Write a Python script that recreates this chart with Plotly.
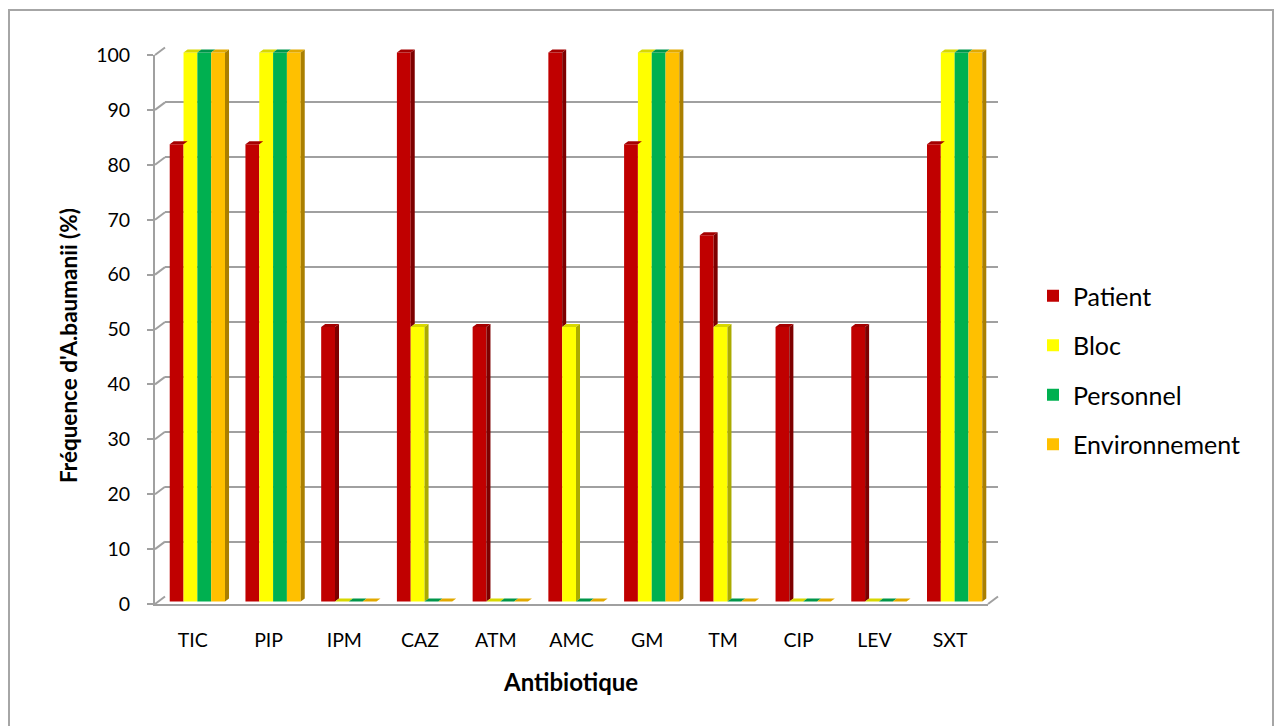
import plotly.graph_objects as go

# ---- data -------------------------------------------------------------
categories = ["TIC", "PIP", "IPM", "CAZ", "ATM", "AMC", "GM", "TM", "CIP", "LEV", "SXT"]
patient = [83.3, 83.3, 50, 100, 50, 100, 83.3, 66.7, 50, 50, 83.3]
bloc = [100, 100, 0, 50, 0, 50, 100, 50, 0, 0, 100]
personnel = [100, 100, 0, 0, 0, 0, 100, 0, 0, 0, 100]
environnement = [100, 100, 0, 0, 0, 0, 100, 0, 0, 0, 100]
series_names = ["Patient", "Bloc", "Personnel", "Environnement"]
y_ticks = list(range(0, 101, 10))

# ---- styling ----------------------------------------------------------
W, H = 1274, 726
FONT = "Lato"
front_colors = ["#C00000", "#FFFF00", "#00B050", "#FFC000"]
top_colors = ["#A50000", "#D8D800", "#00964A", "#E2A900"]
side_colors = ["#7E0000", "#ABAB00", "#007838", "#AA7F00"]
grid_color = "#A0A0A0"

SCALE = 5.49            # pixels per percentage point
BAR_GAP = 0.27
DEPTH_X = 0.053         # bar depth, category units
DEPTH_Y = 0.55          # bar depth, value units


def fx(p):
    return p / W


def fy(p):
    return 1 - p / H


# front frame (tick labels), bar plane and back wall are three stacked planes
FRONT_L, FRONT_R, FRONT_Y0 = 155, 988, 604
BAR_SHIFT_X, BAR_SHIFT_Y = 4.5, -2.5
WALL_SHIFT_X, WALL_SHIFT_Y = 10, -7.5

series = [patient, bloc, personnel, environnement]
n = len(categories)
xs = list(range(n))

fig = go.Figure()

# invisible traces so the back-wall and front-frame subplots are created
fig.add_trace(go.Scatter(x=[None], y=[None], xaxis="x", yaxis="y",
                         showlegend=False, hoverinfo="skip"))
fig.add_trace(go.Scatter(x=[None], y=[None], xaxis="x3", yaxis="y3",
                         showlegend=False, hoverinfo="skip"))

for name, vals, col in zip(series_names, series, front_colors):
    fig.add_trace(go.Bar(
        x=xs, y=vals, name=name, marker=dict(color=col, line=dict(width=0)),
        xaxis="x2", yaxis="y2", legendgroup=name,
    ))

# ---- 3D faces (top and right side of each bar) -----------------------
bw = (1 - BAR_GAP) / len(series)
shapes = []
for i in xs:
    vals = [s[i] for s in series]
    for j, v in enumerate(vals):
        left = i - (1 - BAR_GAP) / 2 + j * bw
        right = left + bw
        # top face
        shapes.append(dict(
            type="path", xref="x2", yref="y2", layer="above",
            path=(f"M{left},{v} L{left + DEPTH_X},{v + DEPTH_Y} "
                  f"L{right + DEPTH_X},{v + DEPTH_Y} L{right},{v} Z"),
            fillcolor=top_colors[j], line=dict(width=0),
        ))
        # side face, only where the next bar does not hide it
        nxt = vals[j + 1] if j + 1 < len(vals) else 0
        if v > nxt:
            shapes.append(dict(
                type="path", xref="x2", yref="y2", layer="above",
                path=(f"M{right},{nxt} L{right + DEPTH_X},{nxt + DEPTH_Y} "
                      f"L{right + DEPTH_X},{v + DEPTH_Y} L{right},{v} Z"),
                fillcolor=side_colors[j], line=dict(width=0),
            ))

# side-wall gridlines joining the front axis to the back wall
for t in y_ticks:
    yf = FRONT_Y0 - SCALE * t
    shapes.append(dict(
        type="line", xref="paper", yref="paper", layer="below",
        x0=fx(FRONT_L), y0=fy(yf),
        x1=fx(FRONT_L + WALL_SHIFT_X), y1=fy(yf + WALL_SHIFT_Y),
        line=dict(color=grid_color, width=2),
    ))
# right edge of the floor
shapes.append(dict(
    type="line", xref="paper", yref="paper", layer="below",
    x0=fx(FRONT_R), y0=fy(FRONT_Y0),
    x1=fx(FRONT_R + WALL_SHIFT_X), y1=fy(FRONT_Y0 + WALL_SHIFT_Y),
    line=dict(color=grid_color, width=2),
))
# chart frame
shapes.append(dict(
    type="rect", xref="paper", yref="paper", layer="below",
    x0=fx(9), y0=fy(760), x1=fx(1273), y1=fy(10),
    line=dict(color="#A6A6A6", width=2), fillcolor="rgba(0,0,0,0)",
))

top100 = FRONT_Y0 - SCALE * 100
bar_y0 = FRONT_Y0 + BAR_SHIFT_Y
y2_lo, y2_hi = -2, 104

fig.update_layout(
    width=W, height=H,
    margin=dict(l=0, r=0, t=0, b=0, pad=0, autoexpand=False),
    paper_bgcolor="white", plot_bgcolor="rgba(0,0,0,0)",
    font=dict(family=FONT, color="black"),
    barmode="group", bargap=BAR_GAP, bargroupgap=0,
    showlegend=True,
    legend=dict(
        x=fx(1033), y=fy(370), xanchor="left", yanchor="middle",
        font=dict(family=FONT, size=25, color="black"),
        tracegroupgap=14, itemwidth=30, bgcolor="rgba(0,0,0,0)",
    ),
    # back wall
    xaxis=dict(domain=[fx(FRONT_L + WALL_SHIFT_X), fx(FRONT_R + WALL_SHIFT_X)],
               range=[-0.5, n - 0.5], visible=False, anchor="y"),
    yaxis=dict(domain=[fy(FRONT_Y0 + WALL_SHIFT_Y), fy(top100 + WALL_SHIFT_Y)],
               range=[0, 100], tickvals=y_ticks, showticklabels=False,
               showgrid=True, gridcolor=grid_color, gridwidth=2,
               zeroline=False, showline=False, anchor="x"),
    # bar plane
    xaxis2=dict(domain=[fx(FRONT_L + BAR_SHIFT_X), fx(FRONT_R + BAR_SHIFT_X)],
                range=[-0.5, n - 0.5], visible=False, anchor="y2"),
    yaxis2=dict(domain=[fy(bar_y0 - SCALE * y2_lo), fy(bar_y0 - SCALE * y2_hi)],
                range=[y2_lo, y2_hi], visible=False, anchor="x2"),
    # front frame with labels
    xaxis3=dict(domain=[fx(FRONT_L), fx(FRONT_R)], range=[-0.5, n - 0.5],
                tickvals=xs, ticktext=categories, showgrid=False, zeroline=False,
                showline=True, linecolor=grid_color, linewidth=2, ticks="",
                ticklabelstandoff=18,
                tickfont=dict(family=FONT, size=19.5, color="black"), anchor="y3"),
    yaxis3=dict(domain=[fy(FRONT_Y0), fy(top100)], range=[0, 100],
                tickvals=y_ticks, showgrid=False, zeroline=False,
                showline=True, linecolor=grid_color, linewidth=2,
                ticks="outside", ticklen=6, tickwidth=2, tickcolor=grid_color,
                ticklabelstandoff=13,
                tickfont=dict(family=FONT, size=19.5, color="black"), anchor="x3"),
    shapes=shapes,
    annotations=[
        dict(text="<b>Antibiotique</b>", xref="paper", yref="paper",
             x=fx(570), y=fy(681), xanchor="center", yanchor="middle",
             showarrow=False, font=dict(family=FONT, size=24, color="black")),
        dict(text="<b>Fréquence d'A.baumanii (%)</b>", xref="paper", yref="paper",
             x=fx(68), y=fy(346), xanchor="center", yanchor="middle",
             showarrow=False, textangle=-90,
             font=dict(family=FONT, size=22.5, color="black")),
    ],
)

fig.write_html("out.html")
